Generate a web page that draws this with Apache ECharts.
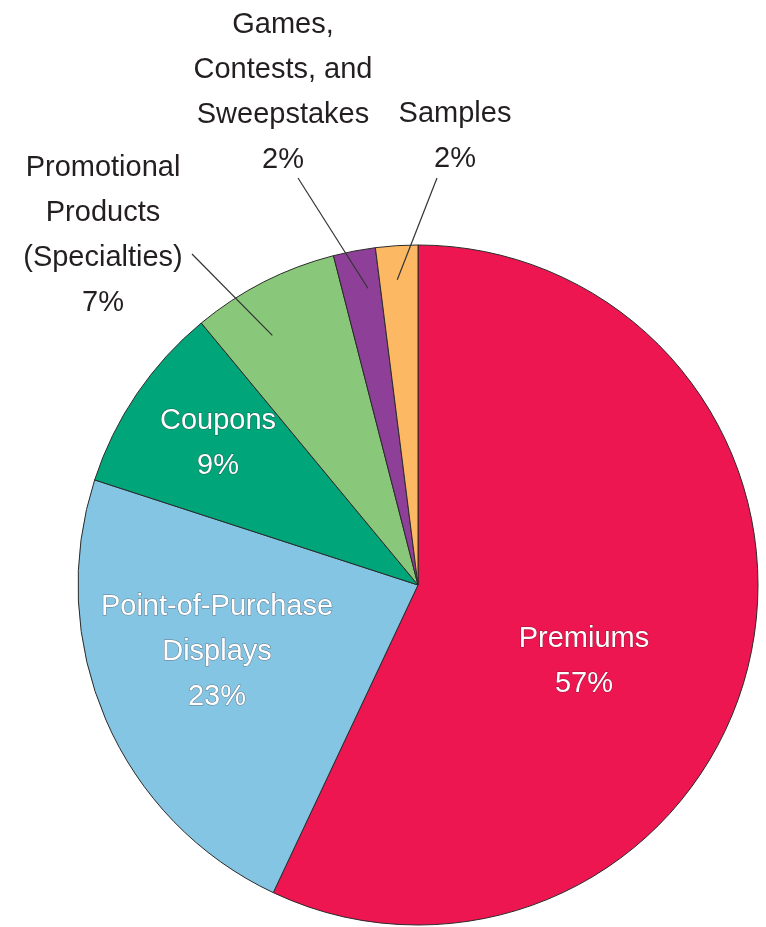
<!DOCTYPE html>
<html>
<head>
<meta charset="utf-8">
<script src="https://cdn.jsdelivr.net/npm/echarts@6/dist/echarts.min.js"></script>
<style>
  html, body { margin: 0; padding: 0; background: #fff; }
  #chart { width: 766px; height: 927px; }
</style>
</head>
<body>
<div id="chart"></div>
<script>
// Sales promotion spending by category (percent of total)
const categories = [
  'Premiums',
  'Point-of-Purchase\nDisplays',
  'Coupons',
  'Promotional\nProducts\n(Specialties)',
  'Games,\nContests, and\nSweepstakes',
  'Samples'
];
const shares = [57, 23, 9, 7, 2, 2];
const sliceColors = ['#ED1651', '#84C5E3', '#00A57A', '#89C87A', '#8E3F97', '#FDB863'];

// Label placement (text block centre) and leader-line ends for outside labels
const labelAnchors = [[584, 661], [217, 652], [218, 443], [103, 235], [283, 92], [455, 136]];
const insideLabel = [true, true, true, false, false, false];
const leaderEnds = [null, null, null, [192, 254], [298, 178], [437, 178]];
// where each leader starts inside its slice: fraction across the slice's sweep, fraction of radius
const leaderStartSweep = [0, 0, 0, 0.37, 0.67, 0.46];
const leaderStartRadius = [0, 0, 0, 0.85, 0.885, 0.9];

const CX = 418, CY = 585, R = 340;
const total = shares.reduce((a, b) => a + b, 0);
const startAngles = [];
let acc = 0;
shares.forEach(v => { startAngles.push(acc / total * 2 * Math.PI); acc += v; });

// Leader lines run from inside each small slice up to its label
const leaderLines = [];
shares.forEach((v, i) => {
  if (!leaderEnds[i]) return;
  const a = startAngles[i] + leaderStartSweep[i] * v / total * 2 * Math.PI;
  const r = R * leaderStartRadius[i];
  leaderLines.push({
    type: 'polyline',
    z: 100,
    silent: true,
    shape: { points: [[CX + r * Math.sin(a), CY - r * Math.cos(a)], leaderEnds[i]] },
    style: { stroke: '#333', lineWidth: 1.2, fill: null }
  });
});

const chart = echarts.init(document.getElementById('chart'));
chart.setOption({
  animation: false,
  graphic: leaderLines,
  series: [{
    type: 'pie',
    center: [CX, CY],
    radius: [0, R],
    startAngle: 90,
    clockwise: true,
    avoidLabelOverlap: false,
    itemStyle: { borderColor: '#2a2a2a', borderWidth: 1 },
    labelLine: { show: false },
    label: {
      fontFamily: '"Liberation Sans", Arial, sans-serif',
      fontSize: 29,
      lineHeight: 45,
      align: 'center',
      formatter: '{b}\n{c}%'
    },
    emphasis: { disabled: true },
    data: categories.map((name, i) => ({
      name: name,
      value: shares[i],
      itemStyle: { color: sliceColors[i] },
      label: insideLabel[i]
        ? { position: 'inside', color: '#fff', textBorderColor: 'rgba(60,20,30,0.45)', textBorderWidth: 1 }
        : { position: 'outside', color: '#231f20' }
    })),
    labelLayout: function (params) {
      const i = params.dataIndex;
      return {
        x: labelAnchors[i][0],
        y: labelAnchors[i][1],
        align: 'center',
        verticalAlign: 'middle'
      };
    }
  }]
});
</script>
</body>
</html>
